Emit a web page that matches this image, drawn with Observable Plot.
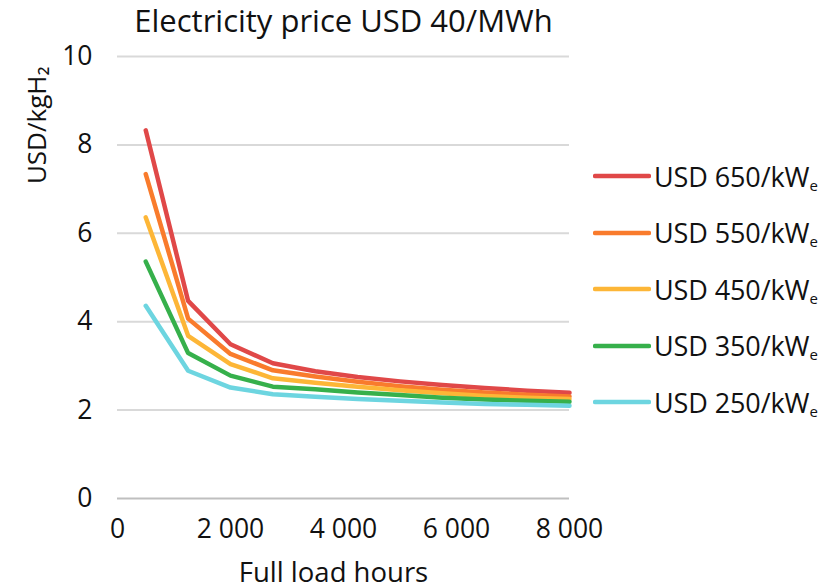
<!DOCTYPE html>
<html>
<head>
<meta charset="utf-8">
<script src="https://cdn.jsdelivr.net/npm/d3@7"></script>
<script src="https://cdn.jsdelivr.net/npm/@observablehq/plot@0.6"></script>
<style>
  html, body { margin: 0; padding: 0; background: #fff; }
  #wrap { position: relative; width: 825px; height: 588px; font-family: "Open Sans", sans-serif; }
  #legend { position: absolute; left: 593px; top: 148px; }
  .row { display: flex; align-items: center; height: 56.5px; font-size: 27px; color: #111; white-space: nowrap; letter-spacing: -0.1px; }
  .row svg { margin-right: 3px; }
  .row sub { font-size: 15px; vertical-align: -4px; }
</style>
</head>
<body>
<div id="wrap"><div id="chart"></div><div id="legend"></div></div>
<script>
const title = "Electricity price USD 40/MWh";
const yLabel = "USD/kgH\u2082";
const xLabel = "Full load hours";
const hours = [500, 1250, 2000, 2750, 3500, 4250, 5000, 5750, 6500, 7250, 8000];
const seriesNames = ["USD 650/kW", "USD 550/kW", "USD 450/kW", "USD 350/kW", "USD 250/kW"];
const seriesSub = "e";
const seriesColors = ["#e04848", "#f97b2c", "#fdb637", "#36b04b", "#6dd5e0"];
const s650 = [8.33, 4.47, 3.49, 3.06, 2.88, 2.75, 2.65, 2.57, 2.50, 2.44, 2.39];
const s550 = [7.34, 4.07, 3.27, 2.90, 2.76, 2.64, 2.54, 2.46, 2.40, 2.35, 2.31];
const s450 = [6.36, 3.68, 3.04, 2.72, 2.62, 2.53, 2.45, 2.38, 2.32, 2.28, 2.25];
const s350 = [5.36, 3.29, 2.78, 2.53, 2.47, 2.40, 2.34, 2.28, 2.24, 2.21, 2.19];
const s250 = [4.36, 2.89, 2.51, 2.36, 2.30, 2.25, 2.21, 2.17, 2.14, 2.12, 2.10];
const xTicks = [0, 2000, 4000, 6000, 8000];
const yTicks = [0, 2, 4, 6, 8, 10];

const seriesValues = [s650, s550, s450, s350, s250];
const data = seriesNames.flatMap((name, i) =>
  hours.map((h, j) => ({series: name, h, v: seriesValues[i][j]}))
);
const fmt = d => d3.format(",")(d).replace(/,/g, " ");

const chart = Plot.plot({
  width: 825,
  height: 588,
  marginLeft: 117,
  marginRight: 256,
  marginTop: 56,
  marginBottom: 90,
  style: {fontFamily: "Open Sans, sans-serif", fontSize: "26.5px", color: "#111", background: "#fff", overflow: "visible"},
  x: {domain: [0, 8000], ticks: xTicks, tickFormat: fmt, tickSize: 0, tickPadding: 21, label: null},
  y: {domain: [0, 10], ticks: yTicks, tickSize: 0, tickPadding: 25, label: null},
  color: {domain: seriesNames, range: seriesColors},
  marks: [
    Plot.ruleY(yTicks.filter(d => d > 0), {stroke: "#d9d9d9", strokeWidth: 2}),
    Plot.ruleY([0], {stroke: "#bfbfbf", strokeWidth: 2}),
    Plot.line(data, {x: "h", y: "v", stroke: "series", strokeWidth: 4.5, strokeLinecap: "round", strokeLinejoin: "round"}),
    Plot.text([title], {text: d => d, frameAnchor: "top", dy: -47, fontSize: 31, fill: "#111"}),
    Plot.text([yLabel], {text: d => d, frameAnchor: "top-left", dx: -90, dy: 10, rotate: -90, textAnchor: "end", fontSize: 26, fill: "#111"}),
    Plot.text([xLabel], {text: d => d, frameAnchor: "bottom", dx: -10, dy: 83, fontSize: 27.5, fill: "#111"})
  ]
});
document.getElementById("chart").appendChild(chart);

const legend = d3.select("#legend");
seriesNames.forEach((name, i) => {
  const row = legend.append("div").attr("class", "row");
  const svg = row.append("svg").attr("width", 58).attr("height", 10);
  svg.append("line").attr("x1", 2).attr("x2", 56).attr("y1", 5).attr("y2", 5)
    .attr("stroke", seriesColors[i]).attr("stroke-width", 4.5).attr("stroke-linecap", "round");
  const span = row.append("span").text(name);
  span.append("sub").text(seriesSub);
});
</script>
</body>
</html>
